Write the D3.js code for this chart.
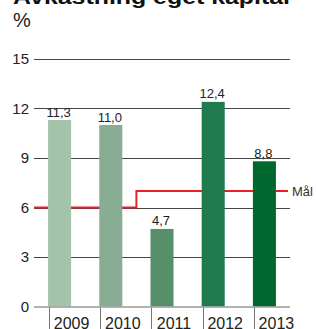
<!DOCTYPE html>
<html>
<head>
<meta charset="utf-8">
<script src="https://cdn.jsdelivr.net/npm/d3@7"></script>
<style>
  body { margin: 0; background: #fff; }
  svg { display: block; font-family: "Liberation Sans", Arial, sans-serif; }
</style>
</head>
<body>
<svg id="chart" width="316" height="329"></svg>
<script>
// data
const years = ["2009", "2010", "2011", "2012", "2013"];
const values = [11.3, 11.0, 4.7, 12.4, 8.8];
const goal = [6, 6, 7, 7, 7];
const barColors = ["#a4c3ab", "#88ad94", "#578f6b", "#1f7a4d", "#00672f"];
const yTicks = [0, 3, 6, 9, 12, 15];

const svg = d3.select("#chart");
const left = 34, right = 290;

const x = d3.scaleBand()
    .domain(years)
    .range([left, right])
    .paddingInner(0.55)
    .paddingOuter(0.275);

const y = d3.scaleLinear()
    .domain([0, 15])
    .range([306.5, 59]);

const fmt = d3.formatLocale({ decimal: ",", thousands: " ", grouping: [3], currency: ["", " kr"] }).format(".1f");

// title (cut off at the top like the source)
svg.append("text")
    .attr("x", 13)
    .attr("y", 3.5)
    .attr("textLength", 277)
    .attr("lengthAdjust", "spacingAndGlyphs")
    .style("font-size", "20px")
    .style("font-weight", "bold")
    .style("fill", "#111")
    .text("Avkastning eget kapital");

svg.append("text")
    .attr("x", 13)
    .attr("y", 26.5)
    .style("font-size", "20px")
    .style("fill", "#222")
    .text("%");

// gridlines
svg.selectAll(".grid")
    .data(yTicks.filter(d => d > 0))
    .enter()
    .append("line")
    .attr("class", "grid")
    .attr("x1", left)
    .attr("x2", right)
    .attr("y1", d => Math.round(y(d)) + 0.5)
    .attr("y2", d => Math.round(y(d)) + 0.5)
    .style("stroke", "#444")
    .style("stroke-width", 1);

// y tick labels
svg.selectAll(".ytick")
    .data(yTicks)
    .enter()
    .append("text")
    .attr("class", "ytick")
    .attr("x", 29)
    .attr("y", d => y(d))
    .attr("dy", "0.36em")
    .attr("text-anchor", "end")
    .style("font-size", "15px")
    .style("fill", "#222")
    .text(d => d);

// goal line (step between years)
const goalPts = [[left, goal[0]]]
    .concat(years.map((d, i) => [x(d) + x.bandwidth() / 2, goal[i]]))
    .concat([[right - 2, goal[goal.length - 1]]]);

const line = d3.line()
    .x(d => d[0])
    .y(d => y(d[1]))
    .curve(d3.curveStep);

svg.append("path")
    .datum(goalPts)
    .attr("d", line)
    .style("fill", "none")
    .style("stroke", "#e8202a")
    .style("stroke-width", 2);

svg.append("text")
    .attr("x", 292)
    .attr("y", y(goal[goal.length - 1]))
    .attr("dy", "0.36em")
    .style("font-size", "13px")
    .style("fill", "#333")
    .text("Mål");

// bars
svg.selectAll(".bar")
    .data(values)
    .enter()
    .append("rect")
    .attr("class", "bar")
    .attr("x", (d, i) => x(years[i]))
    .attr("width", x.bandwidth())
    .attr("y", d => y(d))
    .attr("height", d => y(0) - y(d))
    .style("fill", (d, i) => barColors[i]);

// bar values
svg.selectAll(".bar-text")
    .data(values)
    .enter()
    .append("text")
    .attr("class", "bar-text")
    .attr("x", (d, i) => x(years[i]) + x.bandwidth() / 2 - 1)
    .attr("y", d => y(d) - 3.5)
    .attr("text-anchor", "middle")
    .style("font-size", "13px")
    .style("fill", "#222")
    .text(d => fmt(d));

// x axis line
svg.append("line")
    .attr("x1", left)
    .attr("x2", right)
    .attr("y1", y(0) + 0.5)
    .attr("y2", y(0) + 0.5)
    .style("stroke", "#999")
    .style("stroke-width", 1.6);

// category separators
svg.selectAll(".sep")
    .data(years)
    .enter()
    .append("line")
    .attr("class", "sep")
    .attr("x1", d => Math.round(x(d)) + 1.5)
    .attr("x2", d => Math.round(x(d)) + 1.5)
    .attr("y1", y(0) + 1)
    .attr("y2", 329)
    .style("stroke", "#777")
    .style("stroke-width", 1);

// year labels
svg.selectAll(".year")
    .data(years)
    .enter()
    .append("text")
    .attr("class", "year")
    .attr("x", d => x(d) + x.bandwidth() / 2 + 12)
    .attr("y", 328.5)
    .attr("text-anchor", "middle")
    .style("font-size", "16px")
    .style("fill", "#222")
    .text(d => d);
</script>
</body>
</html>
